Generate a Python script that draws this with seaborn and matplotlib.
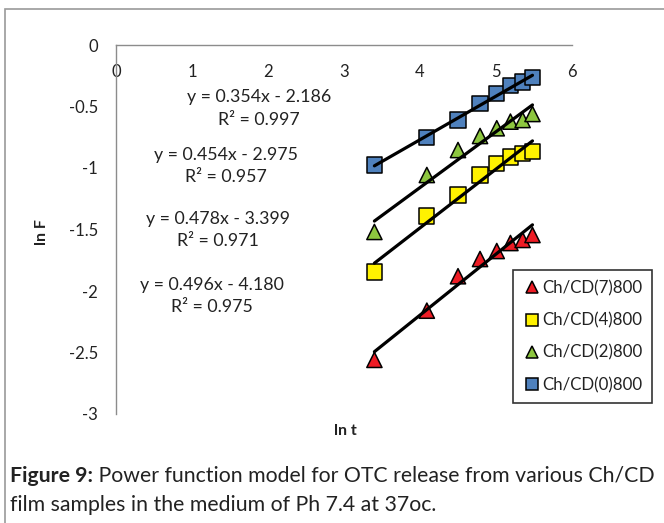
import numpy as np
import pandas as pd
import matplotlib
matplotlib.use("Agg")
from matplotlib import pyplot as plt
from matplotlib.patches import Rectangle
import seaborn as sns

# ln t values (30 ... 240 min)
ln_t = [3.40, 4.09, 4.50, 4.79, 5.01, 5.19, 5.35, 5.48]

series = ['Ch/CD(7)800', 'Ch/CD(4)800', 'Ch/CD(2)800', 'Ch/CD(0)800']
ln_f_7 = [-2.56, -2.16, -1.88, -1.74, -1.675, -1.61, -1.585, -1.545]
ln_f_4 = [-1.846, -1.39, -1.22, -1.057, -0.962, -0.91, -0.88, -0.867]
ln_f_2 = [-1.52, -1.057, -0.854, -0.74, -0.677, -0.623, -0.61, -0.561]
ln_f_0 = [-0.976, -0.75, -0.61, -0.474, -0.393, -0.331, -0.30, -0.266]

slopes = [0.496, 0.478, 0.454, 0.354]
intercepts = [-4.180, -3.399, -2.975, -2.186]
r2 = [0.975, 0.971, 0.957, 0.997]

colors = ['#EE1C25', '#FFF200', '#8DC63F', '#4F81BD']
markers = ['^', 's', '^', 's']

sns.set_style('white')
plt.rcParams['font.family'] = ['Lato', 'DejaVu Sans']

df = pd.DataFrame({
    'ln t': ln_t * 4,
    'ln F': ln_f_7 + ln_f_4 + ln_f_2 + ln_f_0,
    'series': np.repeat(series, len(ln_t)),
})

fig = plt.figure(figsize=(6.64, 5.23), dpi=100)
ax = fig.add_axes([116 / 664, 1 - 414 / 523, 456 / 664, 369 / 523])

# trend lines
for m, b in zip(slopes, intercepts):
    xs = np.array([min(ln_t), max(ln_t)])
    sns.lineplot(x=xs, y=m * xs + b, color='black', lw=2.3, ax=ax, zorder=3)

sns.scatterplot(data=df, x='ln t', y='ln F', hue='series', style='series',
                hue_order=series, style_order=series,
                palette=dict(zip(series, colors)),
                markers=dict(zip(series, markers)),
                s=120, edgecolor='black', linewidth=1.1, ax=ax, zorder=2)

ax.set_xlim(0, 6)
ax.set_ylim(-3, 0)
ax.set_xticks(range(0, 7))
ax.set_yticks([0, -0.5, -1, -1.5, -2, -2.5, -3])
ax.set_yticklabels(['0', '-0.5', '-1', '-1.5', '-2', '-2.5', '-3'])
ax.spines['bottom'].set_position(('data', 0))
for s in ['top', 'right']:
    ax.spines[s].set_visible(False)
for s in ['left', 'bottom']:
    ax.spines[s].set_color('#8C8C8C')
    ax.spines[s].set_linewidth(1)
ax.tick_params(axis='x', direction='out', length=5, width=1, color='#8C8C8C',
               pad=9, labelsize=12, labelcolor='#222222')
ax.tick_params(axis='y', direction='out', length=4, width=1, color='#8C8C8C',
               pad=9, labelsize=12, labelcolor='#222222')

ax.set_xlabel('ln t', fontsize=11.5, fontweight='bold', color='#222222')
ax.set_ylabel('ln F', fontsize=11.5, fontweight='bold', color='#222222')
ax.xaxis.set_label_coords(0.504, -0.026)
ax.yaxis.set_label_coords(-0.148, 0.493)

# regression equations
eq_pos = [(1.26, -1.95, -2.13), (1.34, -1.415, -1.59),
          (1.45, -0.894, -1.07), (1.88, -0.42, -0.61)]
for (xp, ye, yr), m, b, r in zip(eq_pos, slopes, intercepts, r2):
    ax.text(xp, ye, f'y = {m:.3f}x - {abs(b):.3f}', ha='center', va='center',
            fontsize=12.8, color='#222222')
    ax.text(xp, yr, f'R² = {r:.3f}', ha='center', va='center',
            fontsize=12.8, color='#222222')

leg = ax.legend(loc='upper left', bbox_to_anchor=(0.8706, 0.3902), fontsize=12.2,
                frameon=True, fancybox=False, edgecolor='black',
                markerscale=0.75, handletextpad=0.0, labelspacing=0.95,
                borderpad=0.6, handlelength=1.1, borderaxespad=0)
leg.get_frame().set_linewidth(1.2)
for t in leg.get_texts():
    t.set_color('#222222')

fig.add_artist(Rectangle((5 / 664, -0.1), 1.1, 1.1 - 9 / 523, transform=fig.transFigure,
                         fill=False, edgecolor='#9A9A9A', lw=1.2))

cap1 = fig.text(10 / 664, 1 - 476 / 523, 'Figure 9:', fontsize=15.3,
                fontweight='bold', va='center', ha='left', color='#222222')
fig.text(10 / 664, 1 - 505 / 523, 'film samples in the medium of Ph 7.4 at 37oc.',
         fontsize=15.3, va='center', ha='left', color='#222222')
plt.annotate(' Power function model for OTC release from various Ch/CD',
             xy=(1, 0), xycoords=cap1, va='bottom', ha='left',
             fontsize=15.3, color='#222222')

fig.savefig('out.png', dpi=100)
